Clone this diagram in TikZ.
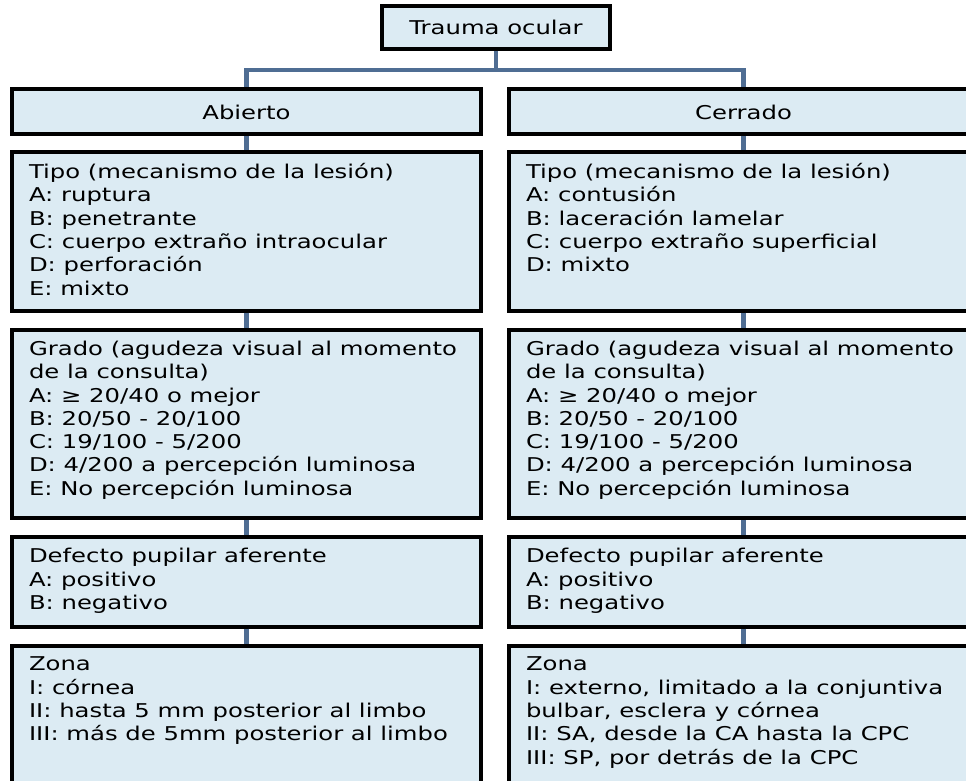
\documentclass[tikz,border=0pt]{standalone}
\usepackage{fontspec}
\setmainfont[FakeStretch=1.28]{DejaVu Sans}
\usepackage{xcolor}
\usetikzlibrary{positioning}

\definecolor{cellfill}{HTML}{DCEBF3}
\definecolor{linkblue}{HTML}{4F6D93}

\tikzset{
    cell/.style={draw=black, line width=4pt, fill=cellfill, inner xsep=17pt, inner ysep=0pt,
        font=\fontsize{19}{23.3}\selectfont},
    head/.style={cell, minimum width=469pt, minimum height=45pt},
    link/.style={draw=linkblue, line width=4.5pt}
}
\newcommand{\celltext}[2]{\parbox[c][#1][t]{435pt}{\vspace*{11.5pt}\raggedright #2}}

\begin{document}
\begin{tikzpicture}[x=1pt, y=1pt]
        \useasboundingbox (0,0) rectangle (966,-781);
        \clip (0,0) rectangle (966,-781);
        \fill[white] (0,0) rectangle (966,-781);

        \node[cell, minimum width=227.5pt, minimum height=42.5pt, inner xsep=0pt] (trauma) at (496,-27.75) {Trauma ocular};
        \node[head, anchor=north] (abierto) at (246.5,-87.5) {Abierto};
        \node[head, right=24pt of abierto] (cerrado) {Cerrado};

        \node[cell, below=13.5pt of abierto] (tipoA) {\celltext{158.5pt}{Tipo (mecanismo de la lesión)\\A: ruptura\\B: penetrante\\C: cuerpo extraño intraocular\\D: perforación\\E: mixto}};
        \node[cell, below=15pt of tipoA] (gradoA) {\celltext{188.5pt}{Grado (agudeza visual al momento\\de la consulta)\\A: ≥ 20/40 o mejor\\B: 20/50 - 20/100\\C: 19/100 - 5/200\\D: 4/200 a percepción luminosa\\E: No percepción luminosa}};
        \node[cell, below=15pt of gradoA] (defA) {\celltext{89.5pt}{Defecto pupilar aferente\\A: positivo\\B: negativo}};
        \node[cell, below=15pt of defA] (zonaA) {\celltext{160pt}{Zona\\I: córnea\\II: hasta 5 mm posterior al limbo\\III: más de 5mm posterior al limbo}};

        \node[cell, below=13.5pt of cerrado] (tipoC) {\celltext{158.5pt}{Tipo (mecanismo de la lesión)\\A: contusión\\B: laceración lamelar\\C: cuerpo extraño superficial\\D: mixto}};
        \node[cell, below=15pt of tipoC] (gradoC) {\celltext{188.5pt}{Grado (agudeza visual al momento\\de la consulta)\\A: ≥ 20/40 o mejor\\B: 20/50 - 20/100\\C: 19/100 - 5/200\\D: 4/200 a percepción luminosa\\E: No percepción luminosa}};
        \node[cell, below=15pt of gradoC] (defC) {\celltext{89.5pt}{Defecto pupilar aferente\\A: positivo\\B: negativo}};
        \node[cell, below=15pt of defC] (zonaC) {\celltext{160pt}{Zona\\I: externo, limitado a la conjuntiva\\bulbar, esclera y córnea\\II: SA, desde la CA hasta la CPC\\III: SP, por detrás de la CPC}};

        \draw[link] (trauma.south) -- ++(0,-19) -| (abierto.north);
        \draw[link] (trauma.south) -- ++(0,-19) -| (cerrado.north);
        \foreach \a/\b in {abierto/tipoA, tipoA/gradoA, gradoA/defA, defA/zonaA,
                cerrado/tipoC, tipoC/gradoC, gradoC/defC, defC/zonaC}
            \draw[link] (\a.south) -- (\b.north);
    \end{tikzpicture}
\end{document}
